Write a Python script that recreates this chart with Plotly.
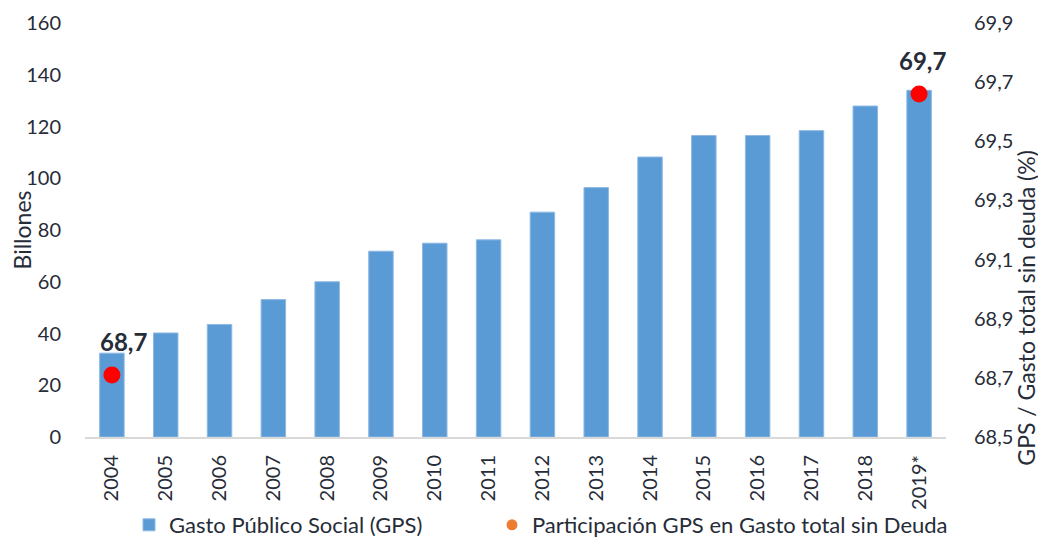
import plotly.graph_objects as go

years = ["2004", "2005", "2006", "2007", "2008", "2009", "2010", "2011",
         "2012", "2013", "2014", "2015", "2016", "2017", "2018", "2019*"]
gps = [32.4, 40.2, 43.5, 53.1, 60.0, 71.8, 74.9, 76.2,
       86.9, 96.4, 108.2, 116.5, 116.5, 118.4, 127.9, 134.0]
part_years = ["2004", "2019*"]
part_values = [68.71, 69.66]
part_labels = ["68,7", "69,7"]

FONT = "Lato"
TXT = "#262c38"

# the page adds an 8px body margin, so the figure is sized to fit the window
W, H = 1038, 529

fig = go.Figure()
fig.add_trace(go.Bar(
    x=years, y=gps, name="Gasto Público Social (GPS)",
    marker=dict(color="#5b9bd5", line=dict(color="#8db9e4", width=1)),
    yaxis="y", showlegend=True, legend="legend",
))
fig.add_trace(go.Scatter(
    x=part_years, y=part_values, mode="markers",
    marker=dict(color="#ff0000", size=17),
    yaxis="y2", showlegend=False, hoverinfo="x+y",
))
# legend entry (orange marker as in the reference legend)
fig.add_trace(go.Scatter(
    x=[None], y=[None], mode="markers",
    name="Participación GPS en Gasto total sin Deuda",
    marker=dict(color="#ed7d31", size=11), yaxis="y2", legend="legend2",
))

shifts = [12, 3]
for xv, yv, lab, xs in zip(part_years, part_values, part_labels, shifts):
    fig.add_annotation(x=years.index(xv), y=yv, xref="x", yref="y2", text=f"<b>{lab}</b>",
                       showarrow=False, xshift=xs, yshift=33,
                       font=dict(family=FONT, size=24, color=TXT))

# right axis title placed as in the reference
fig.add_annotation(x=1, xref="paper", xanchor="center", xshift=80,
                   y=0.31, yref="paper", yanchor="middle", textangle=-90,
                   text="GPS / Gasto total sin deuda (%)", showarrow=False,
                   font=dict(family=FONT, size=23, color=TXT))

legend_common = dict(orientation="h", xref="container", yref="container",
                     xanchor="left", y=1 - 517 / H, yanchor="middle",
                     font=dict(size=22, color=TXT), itemwidth=30,
                     bgcolor="rgba(0,0,0,0)")

fig.update_layout(
    width=W, height=H,
    margin=dict(l=77, r=100, t=15, b=100),
    paper_bgcolor="white", plot_bgcolor="white",
    separators=",.",
    font=dict(family=FONT, size=20, color=TXT),
    bargap=0.545,
    xaxis=dict(
        type="category", categoryorder="array", categoryarray=years,
        range=[-0.5, len(years) - 0.5], automargin=False,
        tickangle=-90, showgrid=False,
        showline=True, linecolor="#d9d9d9", linewidth=2,
        ticks="outside", ticklen=8, tickcolor="rgba(0,0,0,0)",
        tickfont=dict(size=20, color=TXT),
    ),
    yaxis=dict(
        range=[0, 160], dtick=20, tick0=0, showgrid=False, zeroline=False,
        automargin=False, ticklabeloverflow="allow",
        ticks="outside", ticklen=19, tickcolor="rgba(0,0,0,0)",
        tickfont=dict(size=20, color=TXT),
        title=dict(text="Billones", font=dict(size=23, color=TXT), standoff=6),
    ),
    yaxis2=dict(
        range=[68.5, 69.9], dtick=0.2, tick0=68.5, tickformat=".1f",
        overlaying="y", side="right", showgrid=False, zeroline=False,
        automargin=False, ticklabeloverflow="allow",
        ticks="outside", ticklen=23, tickcolor="rgba(0,0,0,0)",
        tickfont=dict(size=20, color=TXT),
    ),
    legend=dict(legend_common, x=121 / W),
    legend2=dict(legend_common, x=484 / W),
)

fig.write_html("out.html")
